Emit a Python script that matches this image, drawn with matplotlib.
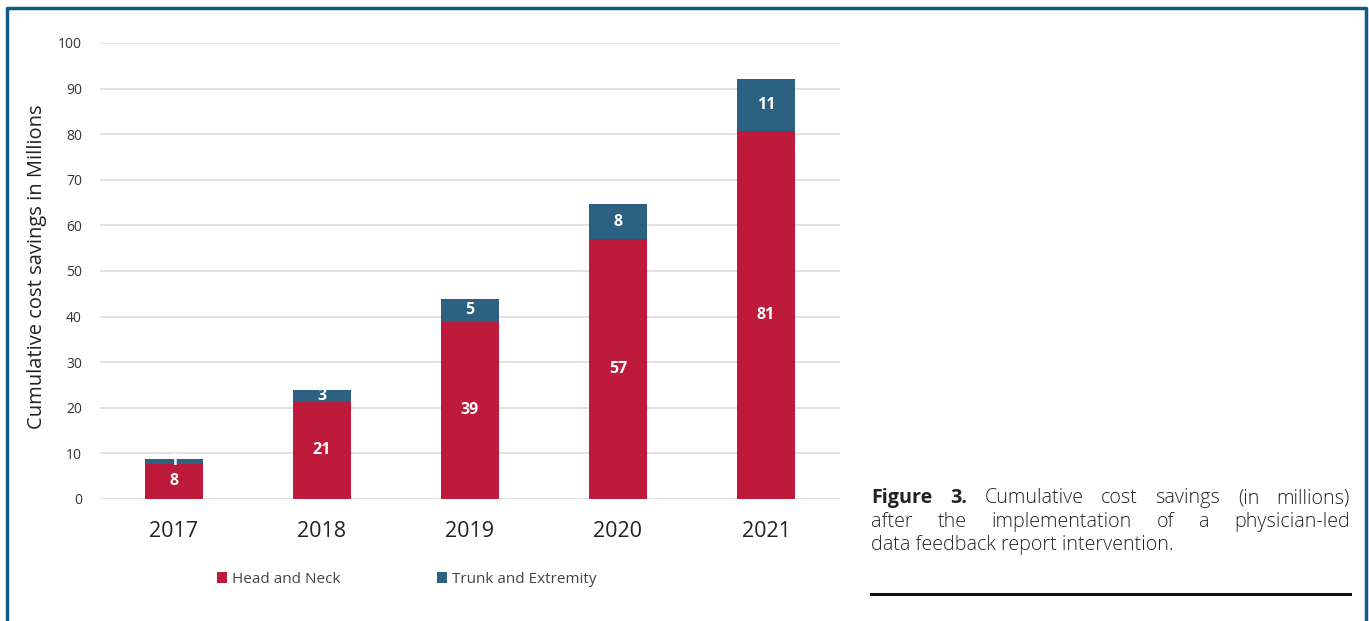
import matplotlib.pyplot as plt
from matplotlib.lines import Line2D
from matplotlib.patches import Patch

# Data
years = ["2017", "2018", "2019", "2020", "2021"]
head_neck = [7.7, 21.3, 38.9, 57.0, 80.8]
trunk_ext = [1.1, 2.7, 5.0, 7.6, 11.2]
head_labels = ["8", "21", "39", "57", "81"]
trunk_labels = ["1", "3", "5", "8", "11"]
yticks = [0, 10, 20, 30, 40, 50, 60, 70, 80, 90, 100]

RED = "#be1a3c"
BLUE = "#2c6181"
FRAME = "#0d5a8a"
CHART_FONT = ["Open Sans", "DejaVu Sans"]
CAP_FONT = ["Open Sans", "DejaVu Sans"]

fig = plt.figure(figsize=(13.69, 6.21), dpi=100)
ax = fig.add_axes([0.073, 0.1965, 0.5406, 0.7343])

x = range(len(years))
width = 0.39
ax.bar(x, head_neck, width=width, color=RED, zorder=3)
ax.bar(x, trunk_ext, width=width, bottom=head_neck, color=BLUE, zorder=3)

# segment labels
for i in x:
    ax.text(i, head_neck[i] / 2, head_labels[i], ha="center", va="center",
            color="white", fontsize=11.5, fontweight="bold", family=CHART_FONT, zorder=4)
    ax.text(i, head_neck[i] + trunk_ext[i] / 2, trunk_labels[i], ha="center", va="center",
            color="white", fontsize=11.5, fontweight="bold", family=CHART_FONT, zorder=4)

ax.set_xlim(-0.5, len(years) - 0.5)
ax.set_ylim(0, 100)
ax.set_yticks(yticks)
ax.set_yticklabels([str(t) for t in yticks], family=CHART_FONT, fontsize=10, color="#333333")
ax.set_xticks(list(x))
ax.set_xticklabels(years, family=CHART_FONT, fontsize=15.5, color="#222222")
ax.tick_params(length=0)
ax.tick_params(axis="y", pad=13)
ax.tick_params(axis="x", pad=16)
ax.grid(axis="y", color="#dddddd", linewidth=1.2, zorder=0)
for s in ax.spines.values():
    s.set_visible(False)
ax.set_ylabel("Cumulative cost savings in Millions", family=CHART_FONT, fontsize=14.5,
              color="#222222")
ax.yaxis.set_label_coords(-0.072, 0.51)

handles = [Patch(facecolor=RED, label="Head and Neck"),
           Patch(facecolor=BLUE, label="Trunk and Extremity")]
fig.legend(handles=handles, loc="center", bbox_to_anchor=(0.297, 0.067), ncol=2, frameon=False,
           prop={"family": CHART_FONT, "size": 11}, handlelength=0.7, handleheight=0.7,
           handletextpad=0.3, columnspacing=6.3, labelcolor="#444444")

# frame around the figure (no bottom edge)
W, H = 1369, 621
fx0, fx1, fy = 7 / W, 1366 / W, 1 - 8 / H
fig.add_artist(Line2D([fx0, fx0, fx1, fx1], [0, fy, fy, 0], transform=fig.transFigure,
                      color=FRAME, linewidth=2.5))

# caption with justified lines
renderer = fig.canvas.get_renderer()
cx0, cx1 = 871 / W, 1350 / W
line_y = [1 - 498 / H, 1 - 522 / H, 1 - 545 / H]
cap_size = 14.2


def text_width(s, size, weight="normal"):
    t = fig.text(0, 0, s, fontsize=size, family=CAP_FONT, fontweight=weight)
    w = t.get_window_extent(renderer).width / W
    t.remove()
    return w


def justify(words, y, weights):
    widths = [text_width(w, cap_size, wt) for w, wt in zip(words, weights)]
    gap = (cx1 - cx0 - sum(widths)) / (len(words) - 1)
    xpos = cx0
    for w, wt, wd in zip(words, weights, widths):
        fig.text(xpos, y, w, fontsize=cap_size, family=CAP_FONT, fontweight=wt,
                 color="#222222", va="center")
        xpos += wd + gap


line1 = ["Figure", "3.", "Cumulative", "cost", "savings", "(in", "millions)"]
justify(line1, line_y[0], ["bold", "bold"] + ["light"] * 5)
line2 = ["after", "the", "implementation", "of", "a", "physician-led"]
justify(line2, line_y[1], ["light"] * len(line2))
fig.text(cx0, line_y[2], "data feedback report intervention.", fontsize=cap_size,
         family=CAP_FONT, fontweight="light", color="#222222", va="center")
fig.add_artist(Line2D([cx0, cx1], [1 - 594 / H, 1 - 594 / H], transform=fig.transFigure,
                      color="#111111", linewidth=2.2))

fig.savefig("out.png", dpi=100)
